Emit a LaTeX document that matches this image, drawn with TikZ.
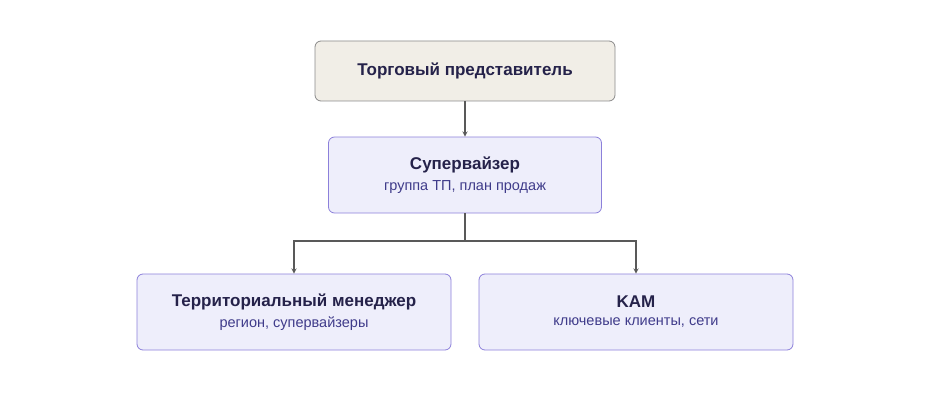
\documentclass[tikz,border=0pt]{standalone}
\usepackage{fontspec}
\setmainfont{Liberation Sans}
\usetikzlibrary{calc}
\definecolor{boxfill}{HTML}{EEEEFB}
\definecolor{boxline}{HTML}{8C80DA}
\definecolor{topfill}{HTML}{F1EEE7}
\definecolor{topline}{HTML}{8A8A8A}
\definecolor{titletext}{HTML}{25224A}
\definecolor{subtext}{HTML}{3F3B8A}
\begin{document}
\begin{tikzpicture}[x=1pt,y=-1pt,
    rolebox/.style={draw=boxline, fill=boxfill, rounded corners=6pt, line width=0.8pt, align=center},
    topbox/.style={draw=topline, fill=topfill, rounded corners=6pt, line width=0.8pt},
    link/.style={draw=black!65, line width=1.3pt, -stealth}]
            \useasboundingbox (0,0) rectangle (930,412);
            \node[topbox, minimum width=300pt, minimum height=60pt] (T) at (465,71) {\fontsize{17}{20}\selectfont\bfseries\color{titletext}Торговый представитель};
            \node[rolebox, minimum width=273pt, minimum height=76pt] (S) at (465,175) {\fontsize{17}{20}\selectfont\bfseries\color{titletext}Супервайзер\\[6pt]\fontsize{14.5}{17}\selectfont\color{subtext}группа ТП, план продаж};
            \node[rolebox, minimum width=314pt, minimum height=76pt] (L) at (294,312) {\fontsize{17}{20}\selectfont\bfseries\color{titletext}Территориальный менеджер\\[6pt]\fontsize{14.5}{17}\selectfont\color{subtext}регион, супервайзеры};
            \node[rolebox, minimum width=314pt, minimum height=76pt] (K) at (636,312) {\fontsize{17}{20}\selectfont\bfseries\color{titletext}KAM\\[6pt]\fontsize{14.5}{17}\selectfont\color{subtext}ключевые клиенты, сети};

            \coordinate (J) at (465,241);
            \draw[link] (T) -- (S);
            \draw[link] (S.south) -- (J) -| (L.north);
            \draw[link] (J) -| (K.north);

        \end{tikzpicture}
\end{document}
